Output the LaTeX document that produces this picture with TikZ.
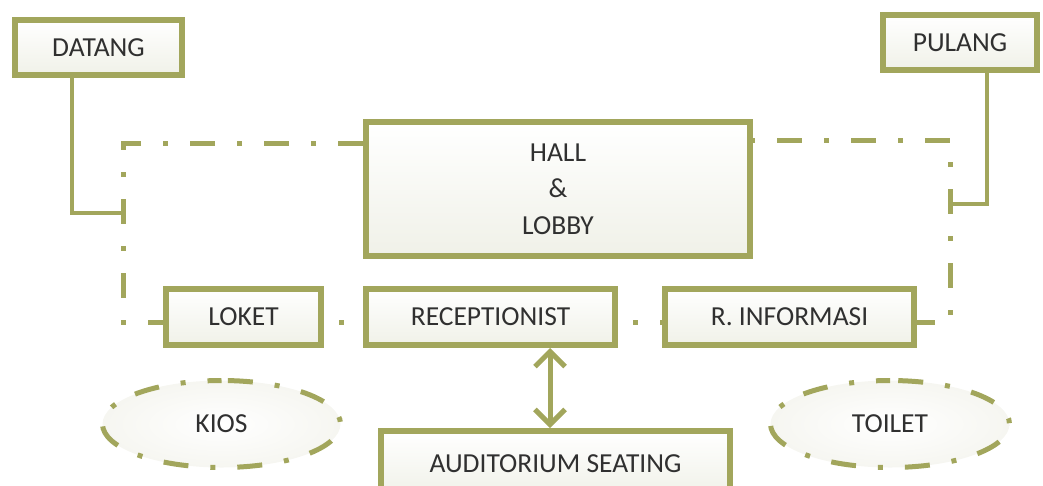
\documentclass[tikz,border=0pt]{standalone}
\usepackage{fontspec}
\usepackage{graphicx}
\setmainfont{Carlito}
\usetikzlibrary{arrows.meta,shapes.geometric}

\definecolor{sage}{RGB}{162,166,92}
\definecolor{ink}{RGB}{48,48,48}
\definecolor{paper}{RGB}{240,241,232}
\definecolor{mist}{RGB}{246,246,241}

\tikzset{
  box/.style={rectangle, draw=sage, line width=6pt, inner sep=0pt,
    top color=white, bottom color=paper, text=ink,
    font=\fontsize{27.5}{36.5}\selectfont, align=center},
  conn/.style={draw=sage, line width=4pt},
  dd/.style={draw=sage, line width=5pt,
    dash pattern=on 25pt off 22pt on 5pt off 22pt},
  ring/.style={ellipse, rotate=90, dd, dash phase=11pt, inner sep=0pt,
    inner color=white, outer color=mist, text=ink,
    font=\fontsize{27.5}{32}\selectfont},
  twoway/.style={draw=sage, line width=5pt,
    {Straight Barb[length=15pt,width=30pt]}-{Straight Barb[length=15pt,width=30pt]}}
}

\begin{document}
\begin{tikzpicture}[x=1pt,y=-1pt]
  \clip (0,0) rectangle (1043,485);

  % boxes
  \node[box, minimum width=167pt, minimum height=55pt] (datang) at (98.5,47.5) {DATANG};
  \node[box, minimum width=154pt, minimum height=55pt] (pulang) at (960,42.5) {PULANG};
  \node[box, minimum width=384pt, minimum height=134pt] (hall) at (558,189) {HALL\\\&\\LOBBY};
  \node[box, minimum width=155pt, minimum height=56pt] (loket) at (243.5,317) {LOKET};
  \node[box, minimum width=249pt, minimum height=56pt] (recep) at (490.5,317) {RECEPTIONIST};
  \node[box, minimum width=249pt, minimum height=56pt] (rinfo) at (789.5,317) {R. INFORMASI};
  \node[box, minimum width=349pt, minimum height=66pt] (audit) at (555.5,464) {AUDITORIUM SEATING};

  % dashed outlines of the open areas
  \node[ring, minimum width=87pt, minimum height=238pt] (kios) at (221.5,424) {\rotatebox{-90}{KIOS}};
  \node[ring, minimum width=87pt, minimum height=239pt] (toilet) at (890,424) {\rotatebox{-90}{TOILET}};

  % circulation route
  \coordinate (tl) at (123,143);
  \coordinate (bl) at (123,322);
  \coordinate (tr) at (950,140);
  \coordinate (br) at (950,322);
  \coordinate (dj) at (123,213);
  \coordinate (pj) at (950,204);
  \coordinate (dx) at (72,0);
  \coordinate (px) at (987,0);
  \coordinate (ax) at (550,0);

  \draw[dd] (tl -| hall.west) -- (tl) -- (bl) -- (bl -| loket.west);
  \draw[dd, dash phase=50pt] (tr -| hall.east) -- (tr) -- (br) -- (br -| rinfo.east);
  \draw[dd, dash phase=32pt] (bl -| loket.east) -- (bl -| recep.west);
  \draw[dd, dash phase=32pt] (bl -| recep.east) -- (bl -| rinfo.west);

  % entry and exit
  \draw[conn] (datang.south -| dx) |- (dj);
  \draw[conn] (pulang.south -| px) |- (pj);

  % receptionist to auditorium
  \draw[twoway] (recep.south -| ax) -- (audit.north -| ax);
\end{tikzpicture}
\end{document}
